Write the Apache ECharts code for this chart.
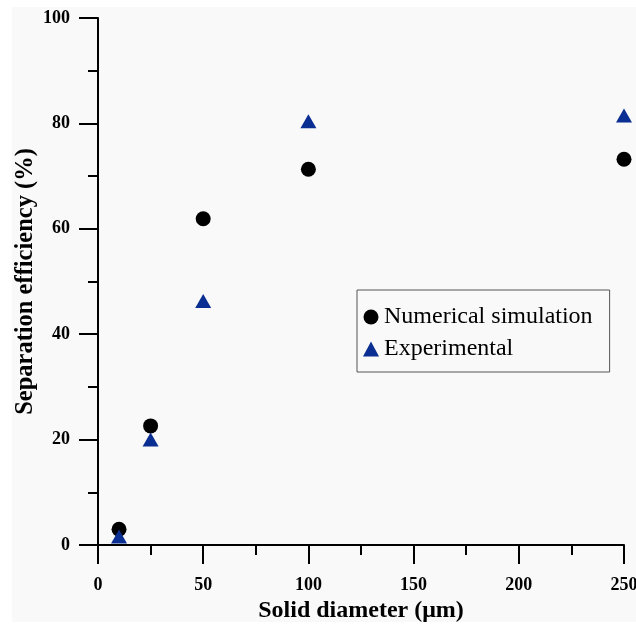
<!DOCTYPE html>
<html><head><meta charset="utf-8">
<script src="https://cdn.jsdelivr.net/npm/echarts@6/dist/echarts.min.js"></script>
<style>html,body{margin:0;padding:0;background:#fff;overflow:hidden}#c{width:636px;height:626px}</style>
</head><body><div id="c"></div>
<script>
const diameters = [10, 25, 50, 100, 250];
const numerical = [3.0, 22.6, 61.9, 71.3, 73.2];
const experimental = [1.6, 20.0, 46.3, 80.4, 81.5];
const seriesNames = ['Numerical simulation', 'Experimental'];
const xTitle = 'Solid diameter (\u03bcm)';
const yTitle = 'Separation efficiency (%)';

const serif = '"Liberation Serif", "Times New Roman", serif';
const chart = echarts.init(document.getElementById('c'));
const axisCommon = {
  axisLine: {show: true, lineStyle: {color: '#000', width: 2}},
  axisTick: {show: true, inside: false, length: 19, lineStyle: {color: '#000', width: 2}},
  minorTick: {show: true, splitNumber: 2, length: 10, lineStyle: {color: '#000', width: 2}},
  splitLine: {show: false},
  minorSplitLine: {show: false},
  axisLabel: {color: '#000', fontFamily: serif, fontWeight: 'bold', fontSize: 18},
  nameLocation: 'middle',
  nameMoveOverlap: false,
  nameTextStyle: {color: '#000', fontFamily: serif, fontWeight: 'bold', fontSize: 24}
};
chart.setOption({
  backgroundColor: '#fff',
  animation: false,
  graphic: [{type: 'rect', z: -10, silent: true, shape: {x: 12, y: 7, width: 624, height: 615}, style: {fill: '#f9f9f9'}}],
  grid: {left: 98, right: 12, top: 18, bottom: 81, containLabel: false, outerBoundsMode: 'none'},
  xAxis: Object.assign({}, axisCommon, {
    type: 'value', min: 0, max: 250, interval: 50,
    name: xTitle, nameGap: 54,
    axisLabel: Object.assign({}, axisCommon.axisLabel, {margin: 31})
  }),
  yAxis: Object.assign({}, axisCommon, {
    type: 'value', min: 0, max: 100, interval: 20,
    name: yTitle, nameGap: 60,
    nameTextStyle: Object.assign({}, axisCommon.nameTextStyle, {fontSize: 24.5}),
    axisLabel: Object.assign({}, axisCommon.axisLabel, {margin: 28})
  }),
  legend: {
    orient: 'vertical', left: 357, top: 290,
    padding: [15, 17, 11, 6],
    borderColor: '#555', borderWidth: 1,
    itemWidth: 16, itemHeight: 15, itemGap: 8,
    textStyle: {fontFamily: serif, fontSize: 24, color: '#000', padding: [0, 0, 0, 0]},
    data: [
      {name: seriesNames[0], icon: 'circle'},
      {name: seriesNames[1], icon: 'triangle'}
    ]
  },
  series: [
    {name: seriesNames[0], type: 'scatter', symbol: 'circle', symbolSize: 15,
     itemStyle: {color: '#000', opacity: 1}, data: diameters.map((d, i) => [d, numerical[i]])},
    {name: seriesNames[1], type: 'scatter', symbol: 'triangle', symbolSize: [16, 14],
     itemStyle: {color: '#0a2e91', opacity: 1}, data: diameters.map((d, i) => [d, experimental[i]])}
  ]
});
</script></body></html>
